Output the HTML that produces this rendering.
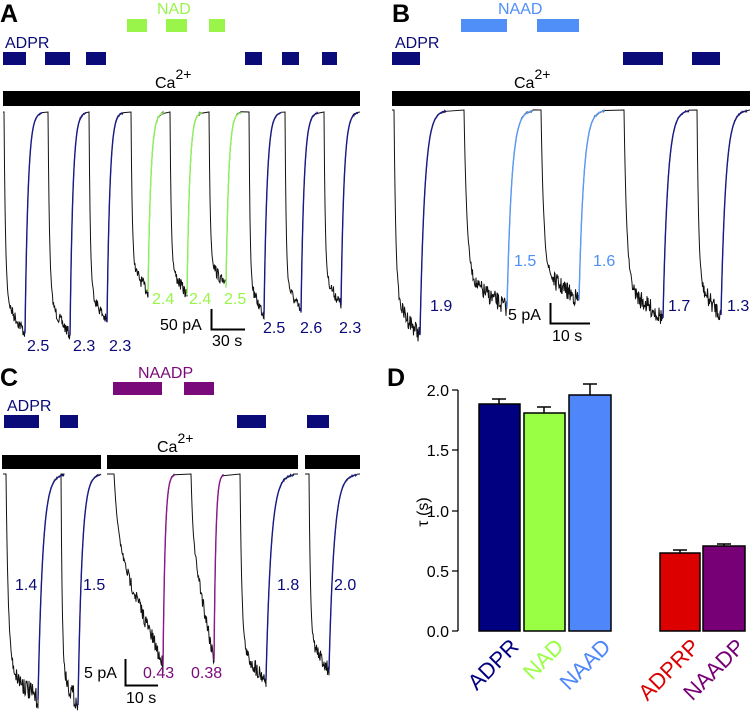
<!DOCTYPE html>
<html><head><meta charset="utf-8"><style>
html,body{margin:0;padding:0;background:#fff;}
svg{display:block;font-family:"Liberation Sans",sans-serif;}
</style></head><body>
<svg id="s" width="752" height="714" viewBox="0 0 752 714" xmlns="http://www.w3.org/2000/svg">
<g font-weight="bold" font-size="25" fill="#000">
<text x="0" y="22">A</text><text x="392" y="22">B</text><text x="0" y="386">C</text><text x="387" y="386">D</text>
</g>
<!-- A bars -->
<g fill="#0a0a78">
<rect x="3" y="52" width="23" height="13"/><rect x="45" y="52" width="25" height="13"/><rect x="86" y="52" width="20" height="13"/>
<rect x="245" y="52" width="17" height="13"/><rect x="282" y="52" width="17" height="13"/><rect x="322" y="52" width="15" height="13"/>
</g>
<g fill="#99f54a"><rect x="127" y="19" width="20" height="13"/><rect x="166" y="19" width="21" height="13"/><rect x="209" y="19" width="16" height="13"/></g>
<text x="5" y="48" font-size="16" fill="#0a0a78">ADPR</text>
<text x="157" y="14" font-size="16" fill="#99f54a">NAD</text>
<rect x="3" y="91" width="357" height="15" fill="#000"/>
<text x="155" y="88" font-size="16">Ca<tspan dy="-9" font-size="14">2+</tspan></text>
<!-- B bars -->
<g fill="#0a0a78"><rect x="392" y="52" width="28" height="13"/><rect x="623" y="52" width="40" height="13"/><rect x="692" y="52" width="28" height="13"/></g>
<g fill="#4f8ff7"><rect x="461" y="19" width="46" height="13"/><rect x="537" y="19" width="42" height="13"/></g>
<text x="395" y="48" font-size="16" fill="#0a0a78">ADPR</text>
<text x="498" y="14" font-size="16" fill="#4f8ff7">NAAD</text>
<rect x="392" y="91" width="358" height="15" fill="#000"/>
<text x="514" y="88" font-size="16">Ca<tspan dy="-9" font-size="14">2+</tspan></text>
<!-- C bars -->
<g fill="#0a0a78"><rect x="4" y="415" width="35" height="13"/><rect x="60" y="415" width="18" height="13"/><rect x="237" y="415" width="29" height="13"/><rect x="307" y="415" width="22" height="13"/></g>
<g fill="#7a0a7a"><rect x="113" y="382" width="49" height="13"/><rect x="184" y="382" width="30" height="13"/></g>
<text x="7" y="411" font-size="16" fill="#0a0a78">ADPR</text>
<text x="138" y="378" font-size="16" fill="#7a0a7a">NAADP</text>
<g fill="#000"><rect x="2" y="455" width="99" height="14"/><rect x="107" y="455" width="191" height="14"/><rect x="305" y="455" width="55" height="14"/></g>
<text x="157" y="452" font-size="16">Ca<tspan dy="-9" font-size="14">2+</tspan></text>
<g id="traces"></g>
<!-- A labels -->
<g font-size="16" fill="#0a0a78">
<text x="27" y="351">2.5</text><text x="73" y="351">2.3</text><text x="109" y="351">2.3</text>
<text x="263" y="333">2.5</text><text x="300" y="333">2.6</text><text x="339" y="333">2.3</text>
</g>
<g font-size="16" fill="#99f54a"><text x="152" y="304">2.4</text><text x="189" y="304">2.4</text><text x="224" y="304">2.5</text></g>
<text x="160" y="330" font-size="16">50 pA</text>
<path d="M211.5 309 V329.5 H245" stroke="#000" stroke-width="2" fill="none"/>
<text x="212" y="346" font-size="16">30 s</text>
<!-- B labels -->
<g font-size="16" fill="#0a0a78"><text x="430" y="311">1.9</text><text x="668" y="311">1.7</text><text x="727" y="311">1.3</text></g>
<g font-size="16" fill="#4f8ff7"><text x="514" y="266">1.5</text><text x="593" y="266">1.6</text></g>
<text x="508" y="320" font-size="16">5 pA</text>
<path d="M550.5 303 V323.5 H590" stroke="#000" stroke-width="2" fill="none"/>
<text x="552" y="341" font-size="16">10 s</text>
<!-- C labels -->
<g font-size="16" fill="#0a0a78"><text x="15" y="590">1.4</text><text x="83" y="590">1.5</text><text x="277" y="590">1.8</text><text x="334" y="590">2.0</text></g>
<g font-size="16" fill="#7a0a7a"><text x="143" y="678">0.43</text><text x="191" y="678">0.38</text></g>
<text x="84" y="678" font-size="16">5 pA</text>
<path d="M125.5 659 V685.5 H158" stroke="#000" stroke-width="2" fill="none"/>
<text x="126" y="703" font-size="16">10 s</text>
<!-- D chart -->
<g stroke="#000" stroke-width="1.3" fill="none">
<path d="M458 390 V631"/>
<path d="M452 390 H458 M452 450 H458 M452 511 H458 M452 571 H458 M452 631 H458"/>
</g>
<g font-size="16" text-anchor="end"><text x="449" y="396">2.0</text><text x="449" y="456">1.5</text><text x="449" y="517">1.0</text><text x="449" y="577">0.5</text><text x="449" y="637">0.0</text></g>
<text x="0" y="0" font-size="16" transform="translate(428,512) rotate(-90)" text-anchor="middle">τ (s)</text>
<g stroke="#000" stroke-width="1.5">
<rect x="479" y="404" width="41" height="227" fill="#000080"/>
<rect x="524" y="413" width="41" height="218" fill="#99ff44"/>
<rect x="569" y="395" width="42" height="236" fill="#4f87fb"/>
<rect x="660" y="553" width="40" height="78" fill="#dd0000"/>
<rect x="703" y="546" width="42" height="85" fill="#770077"/>
<path d="M499 404 V399 M492 399 H506 M544 413 V407 M537 407 H551 M590 395 V384 M583 384 H597 M680 553 V550 M673 550 H687 M724 546 V544 M717 544 H731" fill="none"/>
</g>
<g font-size="22">
<text transform="translate(520,648) rotate(-45)" text-anchor="end" fill="#000080">ADPR</text>
<text transform="translate(565,648) rotate(-45)" text-anchor="end" fill="#99ff44">NAD</text>
<text transform="translate(612,648) rotate(-45)" text-anchor="end" fill="#4f87fb">NAAD</text>
<text transform="translate(701,648) rotate(-45)" text-anchor="end" fill="#dd0000">ADPRP</text>
<text transform="translate(746,648) rotate(-45)" text-anchor="end" fill="#770077">NAADP</text>
</g>
</svg>
<script>
(function(){
var seed=7;function rnd(){seed=(seed*16807)%2147483647;return seed/2147483647;}
var g=document.getElementById('traces');var NS='http://www.w3.org/2000/svg';
function path(d,c,w){var p=document.createElementNS(NS,'path');p.setAttribute('d',d);p.setAttribute('stroke',c);p.setAttribute('stroke-width',w);p.setAttribute('fill','none');g.appendChild(p);}
function trace(x0,x1,top,pulses,noise){
  var d='M'+x0+' '+top;var fits=[];
  pulses.forEach(function(p){
    var f=p[0],r=p[1],ty=p[2],slow=p[4];
    d+=' L'+f+' '+top;
    var depth=ty-top;
    for(var xx=f;xx<=r;xx+=0.5){
      var t=(xx-f)/(r-f);
      var v=slow? top+depth*(0.35*(1-Math.exp(-t*12))+0.65*t) : top+depth*(0.85*(1-Math.exp(-t*14))+0.15*t);
      var nz=(rnd()-0.5)*noise*Math.min(1,t*2.5);
      d+=' L'+xx.toFixed(1)+' '+(v+nz).toFixed(1);
    }
    var rw=p[5]||20;var fd='M'+r+' '+ty;
    d+=' L'+r+' '+ty;
    for(var xx=r;xx<=r+rw;xx+=0.5){
      var t=(xx-r)/rw;var y=top+(ty-top)*Math.exp(-t*5.5);
      fd+=' L'+xx.toFixed(1)+' '+y.toFixed(1);
      d+=' L'+xx.toFixed(1)+' '+(y+(rnd()-0.5)*2).toFixed(1);
    }
    fits.push([fd,p[3]]);
  });
  d+=' L'+x1+' '+top;
  path(d,'#111',1);
  fits.forEach(function(f){path(f[0],f[1],1.4);});
}
var N='#1a1a88',G='#8ef25a',LB='#5b9af5',P='#8a1a8a';
trace(3,360,112,[[4,25,333,N,0,17],[48,70,335,N,0,16],[89,107,322,N,0,16],[131,148,292,G,0,16],[170,187,295,G,0,15],[209,226,287,G,0,15],[249,264,315,N,0,17],[285,301,312,N,0,17],[324,341,305,N,0,17]],12);
trace(392,750,110,[[394,420,335,N,0,26],[464,507,308,LB,0,26],[541,579,300,LB,0,26],[624,663,318,N,0,26],[697,721,315,N,0,26]],18);
trace(3,101,474,[[6,38,700,N,0,26],[61,78,705,N,0,22]],20);
trace(107,298,474,[[114,163,665,P,1,12],[191,214,660,P,1,10],[240,266,680,N,0,28]],16);
trace(305,360,474,[[309,329,670,N,0,28]],16);
})();
</script>
</body></html>
